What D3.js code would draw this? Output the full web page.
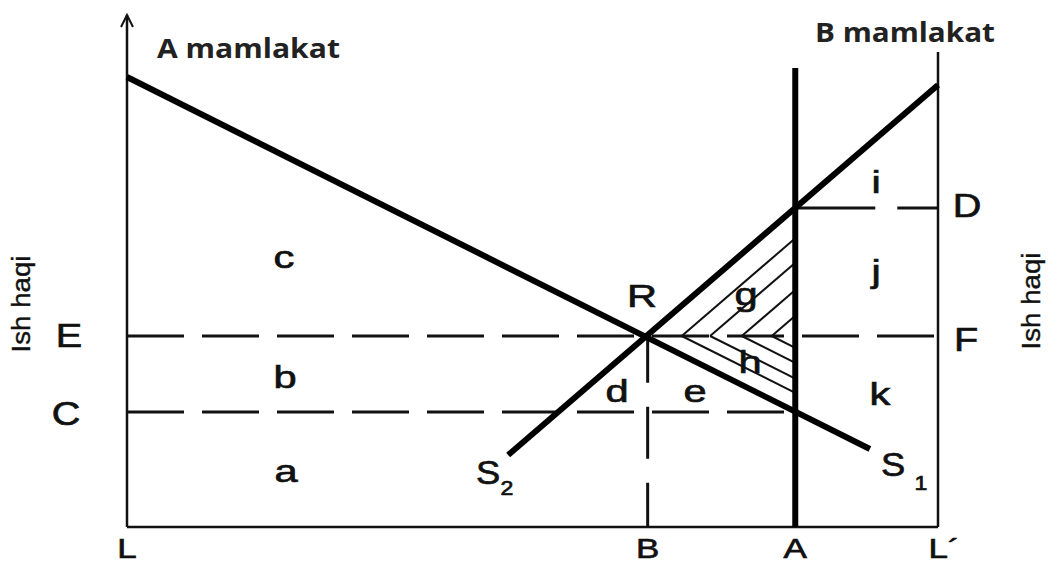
<!DOCTYPE html>
<html><head><meta charset="utf-8">
<script src="https://cdn.jsdelivr.net/npm/d3@7"></script>
<style>html,body{margin:0;padding:0;background:#fff;}</style>
</head><body>
<script>
// ---- data (model units: x = labour quantity 0..100, y = wage 0..100) ----
const pointLabels = ["L", "B", "A", "L´"];
const pointX = [0, 64.2, 82.4, 100];
const wageLabels = ["C", "E", "D"];
const wageLevels = [23, 38.2, 63.8];
const s1Line = [[0, 90], [91.6, 15.6]];     // S1
const s2Line = [[47.0, 14.4], [100, 88.4]]; // S2
const hatchVertices = [68.4, 71.9, 75.8, 79.5];
const regionLetters = ["c", "b", "a", "R", "g", "h", "d", "e", "i", "j", "k"];
const axisTop = 102.4, rightAxisTop = 95, lineATop = 91.8;

// ---- layout ----
const W = 1050, H = 565;
const x = d3.scaleLinear().domain([0, 100]).range([127, 938]);
const y = d3.scaleLinear().domain([0, 100]).range([527, 27]);

const svg = d3.select("body").append("svg").attr("width", W).attr("height", H)
  .style("display", "block").style("background", "#fff");

const slope = l => (l[1][1] - l[0][1]) / (l[1][0] - l[0][0]);
const atX = (l, xv) => l[0][1] + slope(l) * (xv - l[0][0]);

const xB = pointX[1], xA = pointX[2];
const yC = wageLevels[0], yE = wageLevels[1], yD = wageLevels[2];

// hatching (chevrons inside triangle)
const hatch = svg.append("g").attr("stroke", "#111").attr("stroke-width", 2).attr("fill", "none");
hatchVertices.forEach(v => {
  const up = [[v, yE], [xA, yE + slope(s2Line) * (xA - v)]];
  const dn = [[v, yE], [xA, yE + slope(s1Line) * (xA - v)]];
  [up, dn].forEach(seg => hatch.append("line")
    .attr("x1", x(seg[0][0])).attr("y1", y(seg[0][1]))
    .attr("x2", x(seg[1][0])).attr("y2", y(seg[1][1])));
});

// dashed lines
const dashed = svg.append("g").attr("stroke", "#111").attr("stroke-width", 3).attr("fill", "none");
dashed.append("line").attr("x1", x(0)).attr("x2", x(100)).attr("y1", y(yE)).attr("y2", y(yE))
  .attr("stroke-dasharray", "57 18");
dashed.append("line").attr("x1", x(0)).attr("x2", x(xA)).attr("y1", y(yC)).attr("y2", y(yC))
  .attr("stroke-dasharray", "57 18");
dashed.append("line").attr("x1", x(xA)).attr("x2", x(100)).attr("y1", y(yD)).attr("y2", y(yD))
  .attr("stroke-dasharray", "80 22");
dashed.append("line").attr("x1", x(xB)).attr("x2", x(xB)).attr("y1", y(atX(s1Line, xB))).attr("y2", y(0))
  .attr("stroke-dasharray", "52 24").attr("stroke-dashoffset", 7);

// axes
const axes = svg.append("g").attr("stroke", "#111").attr("stroke-width", 2.5).attr("fill", "none");
axes.append("line").attr("x1", x(0)).attr("x2", x(0)).attr("y1", y(0)).attr("y2", y(axisTop));
axes.append("path").attr("d", `M${x(0) - 6},${y(axisTop) + 12} L${x(0)},${y(axisTop)} L${x(0) + 6},${y(axisTop) + 12}`)
  .attr("stroke-width", 2);
axes.append("line").attr("x1", x(0)).attr("x2", x(100)).attr("y1", y(0)).attr("y2", y(0));
axes.append("line").attr("x1", x(100)).attr("x2", x(100)).attr("y1", y(0)).attr("y2", y(rightAxisTop));

// thick lines
const thick = svg.append("g").attr("stroke", "#000").attr("stroke-width", 6).attr("fill", "none")
  .attr("stroke-linecap", "butt");
thick.append("line").attr("x1", x(xA)).attr("x2", x(xA)).attr("y1", y(0)).attr("y2", y(lineATop));
thick.append("line").attr("x1", x(s1Line[0][0])).attr("y1", y(s1Line[0][1]))
  .attr("x2", x(s1Line[1][0])).attr("y2", y(s1Line[1][1]));
thick.append("line").attr("x1", x(s2Line[0][0])).attr("y1", y(s2Line[0][1]))
  .attr("x2", x(s2Line[1][0])).attr("y2", y(s2Line[1][1]));

// text helpers
const FONT = "'Liberation Sans', Arial, sans-serif";
function letter(t, cx, by, size = 32, sx = 1.3) {
  svg.append("text").text(t)
    .attr("transform", `translate(${cx},${by}) scale(${sx},1)`)
    .attr("text-anchor", "middle").attr("font-family", FONT).attr("font-size", size)
    .attr("fill", "#111").attr("stroke", "#111").attr("stroke-width", 0.7);
}

// region letters
const regionPos = [[284, 268], [285, 388], [286, 482], [642, 307], [746, 305], [750, 373],
                   [617, 402], [695, 402], [876, 193], [876, 282], [880, 405]];
regionLetters.forEach((t, i) => letter(t, regionPos[i][0], regionPos[i][1]));

// wage level labels
const wagePos = [[66, 425], [69, 347], [967, 217]];
wageLabels.forEach((t, i) => letter(t, wagePos[i][0], wagePos[i][1], 33, 1.2));
letter("F", 966, 351, 33, 1.2);

// bottom labels
pointLabels.forEach((t, i) => letter(t, x(pointX[i]) + (i === 3 ? 6 : 0), 558, 28, 1.25));

// S labels
letter("S", 488, 484, 33, 1.1);
letter("2", 507, 495, 21, 1.1);
letter("S", 893, 476, 33, 1.1);
letter("1", 921, 490, 21, 1.1);

// titles
svg.append("text").text("A mamlakat").attr("x", 157).attr("y", 58)
  .attr("font-family", "'Open Sans', sans-serif").attr("font-weight", "bold").attr("font-size", 26)
  .attr("textLength", 183).attr("lengthAdjust", "spacingAndGlyphs").attr("fill", "#222");
svg.append("text").text("B mamlakat").attr("x", 815).attr("y", 42)
  .attr("font-family", "'Open Sans', sans-serif").attr("font-weight", "bold").attr("font-size", 26)
  .attr("textLength", 180).attr("lengthAdjust", "spacingAndGlyphs").attr("fill", "#222");

// axis titles
[[30, 304], [1040, 301]].forEach(p => {
  svg.append("text").text("Ish  haqi")
    .attr("transform", `translate(${p[0]},${p[1]}) rotate(-90)`)
    .attr("text-anchor", "middle").attr("font-family", FONT).attr("font-size", 25)
    .attr("textLength", 97).attr("lengthAdjust", "spacingAndGlyphs")
    .attr("fill", "#111").attr("stroke", "#111").attr("stroke-width", 0.4);
});
</script>
</body></html>
